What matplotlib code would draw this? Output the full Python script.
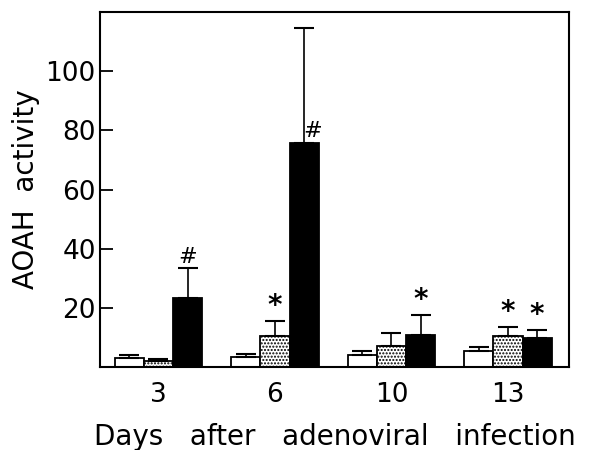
import numpy as np
import matplotlib
matplotlib.use('Agg')
import matplotlib.pyplot as plt

days = ['3', '6', '10', '13']
control = [3.2, 3.5, 4.1, 5.4]
control_err = [0.9, 1.0, 1.4, 1.3]
dotted = [2.0, 10.5, 7.0, 10.6]
dotted_err = [0.7, 5.1, 4.6, 2.8]
black = [23.4, 75.8, 10.9, 9.7]
black_err = [10.2, 38.7, 6.7, 2.9]
# marks over bars: (group, series, symbol)
marks = [(0, 2, '#'), (1, 1, '*'), (2, 2, '*'), (3, 1, '*'), (3, 2, '*')]

plt.rcParams['hatch.linewidth'] = 1.0
fig = plt.figure(figsize=(5.9, 4.5), dpi=100)
ax = fig.add_axes([100/590, 83/450, 469/590, 355/450])

x = np.arange(len(days))
w = 0.25
vals = [control, dotted, black]
errs = [control_err, dotted_err, black_err]
for i, (v, e) in enumerate(zip(vals, errs)):
    xs = x + (i - 1) * w
    if i == 0:
        ax.bar(xs, v, w, color='white', edgecolor='black', linewidth=1.3)
    elif i == 1:
        ax.bar(xs, v, w, color='white', edgecolor='black', linewidth=1.3, hatch='.....')
    else:
        ax.bar(xs, v, w, color='black', edgecolor='black', linewidth=1.3)
    ax.errorbar(xs, v, yerr=[np.zeros(len(v)), e], fmt='none', ecolor='black',
                elinewidth=1.2, capsize=7, capthick=1.5)

for g, s, sym in marks:
    top = vals[s][g] + errs[s][g]
    xs = x[g] + (s - 1) * w
    ax.text(xs, top + 0.3, sym, ha='center', va='bottom',
            fontsize=20 if sym == '*' else 16, fontweight='bold' if sym == '*' else 'normal')
# the big day-6 bar carries its # beside the error line
ax.text(x[1] + w + 0.075, black[1] + 0.5, '#', ha='center', va='bottom', fontsize=16)

ax.set_xlim(-0.502, 3.524)
ax.set_ylim(0, 120)
ax.set_yticks([20, 40, 60, 80, 100])
ax.tick_params(axis='y', direction='in', length=9, width=1.3, labelsize=19, pad=3)
ax.set_xticks(x)
ax.set_xticklabels(days)
ax.tick_params(axis='x', length=0, labelsize=19, pad=11)
for sp in ax.spines.values():
    sp.set_linewidth(1.5)
ax.set_ylabel('AOAH  activity', fontsize=20, labelpad=4)
ax.set_xlabel('Days   after   adenoviral   infection', fontsize=20)
ax.xaxis.set_label_coords(0.5, -0.158)

fig.savefig('out.png', dpi=100)
